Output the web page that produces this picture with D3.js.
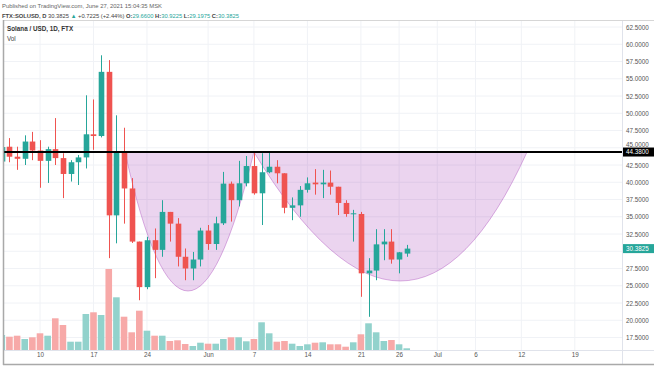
<!DOCTYPE html>
<html><head><meta charset="utf-8">
<script src="https://cdn.jsdelivr.net/npm/d3@7"></script>
<style>
html,body{margin:0;padding:0;background:#fff;}
svg{display:block;font-family:"Liberation Sans","DejaVu Sans",sans-serif;}
</style></head>
<body>
<svg id="c" width="654" height="366"></svg>
<script>
// ---- data ----
const dates = ["2021-05-05","2021-05-06","2021-05-07","2021-05-08","2021-05-09","2021-05-10","2021-05-11","2021-05-12","2021-05-13","2021-05-14","2021-05-15","2021-05-16","2021-05-17","2021-05-18","2021-05-19","2021-05-20","2021-05-21","2021-05-22","2021-05-23","2021-05-24","2021-05-25","2021-05-26","2021-05-27","2021-05-28","2021-05-29","2021-05-30","2021-05-31","2021-06-01","2021-06-02","2021-06-03","2021-06-04","2021-06-05","2021-06-06","2021-06-07","2021-06-08","2021-06-09","2021-06-10","2021-06-11","2021-06-12","2021-06-13","2021-06-14","2021-06-15","2021-06-16","2021-06-17","2021-06-18","2021-06-19","2021-06-20","2021-06-21","2021-06-22","2021-06-23","2021-06-24","2021-06-25","2021-06-26","2021-06-27"];
const open  = [43.0,45.15,43.7,43.4,45.9,44.6,43.1,44.8,43.5,41.2,42.9,43.6,46.95,46.7,56.0,35.2,44.5,39.1,31.4,24.8,31.6,30.2,35.7,34.0,29.2,27.5,28.8,33.0,31.05,34.05,39.8,37.4,39.85,42.35,38.4,41.45,42.25,41.3,36.3,36.65,38.9,39.95,39.7,39.95,39.35,37.0,35.4,35.4,26.8,27.2,31.0,31.4,28.8,29.66];
const high  = [45.4,46.4,45.15,46.8,47.3,46.1,45.15,49.3,44.2,43.2,43.95,52.6,52.0,58.4,57.7,49.7,47.9,40.6,31.4,32.1,33.3,37.4,35.7,34.8,30.4,29.9,33.4,33.8,35.0,41.5,40.1,43.1,43.8,44.4,44.2,44.4,43.2,41.3,37.8,39.45,40.7,41.9,41.8,41.7,39.35,37.4,36.0,35.7,29.0,33.2,33.2,33.2,29.9,30.9225];
const low   = [42.4,42.9,41.8,42.5,43.2,39.2,39.9,42.5,37.7,40.1,39.6,42.0,44.7,46.5,29.0,31.15,34.0,31.2,22.9,24.5,26.1,29.2,31.4,27.8,25.8,25.8,27.8,30.2,30.2,33.8,34.3,36.5,39.4,38.2,33.8,41.3,39.85,35.5,34.5,35.0,38.5,38.2,37.7,38.2,35.25,35.0,31.4,23.4,20.5,25.8,28.7,28.2,26.8,29.1975];
const close = [45.1,43.7,43.4,45.9,44.6,43.1,44.8,43.5,41.2,42.9,43.6,46.95,46.7,56.0,35.2,44.5,39.1,31.4,24.8,31.6,30.2,35.7,34.0,29.2,27.5,28.8,33.0,31.05,34.05,39.8,37.4,39.85,42.35,38.4,41.45,42.25,41.3,36.3,36.65,38.9,39.85,39.7,39.95,39.35,37.0,35.4,35.5,26.8,27.2,31.0,31.4,28.8,29.85,30.3825];
const volume = [15,13.3,14.3,11,12.7,16.7,14.3,31.7,25,8.3,8.3,36,37.7,35,81,52.7,33.3,17.7,39.3,19.3,14.3,14.3,9,9.7,6,4,7.3,6.3,6.3,11,12.7,12.7,8.7,11,27.7,16.7,8.3,9,6.3,4,5.7,7.3,7.7,5.7,5.7,3.3,7.7,15.7,26.7,17.7,9,10,5.7,1.7];

const priceTicks = [17.5,20,22.5,25,27.5,30,32.5,35,37.5,40,42.5,45,47.5,50,52.5,55,57.5,60,62.5];
const dateTicks = ["2021-05-10","2021-05-17","2021-05-24","2021-06-01","2021-06-07","2021-06-14","2021-06-21","2021-06-26","2021-07-01","2021-07-06","2021-07-12","2021-07-19"];
const dateTickLabels = ["10","17","24","Jun","7","14","21","26","Jul","6","12","19"];

const levelPrice = 44.38;
const lastPrice = 30.3825;
// cup-and-handle arcs: [start, control, end] as [date, price]
const arcLeft  = [["2021-05-21T03:00", 44.38], ["2021-05-29T04:30", 4.1], ["2021-06-07T00:00", 44.38]];
const arcRight = [["2021-06-07T00:00", 44.38], ["2021-06-27T10:00", 7.0], ["2021-07-12T18:00", 44.38]];

const headerLine1 = "Published on TradingView.com, June 27, 2021 15:04:35 MSK";
const legendTitle = "Solana / USD, 1D, FTX";

// ---- layout ----
const W = 654, H = 366;
const plotL = 4, plotR = 622, plotT = 21, plotB = 350;
const UP = "#26a69a", DOWN = "#ef5350";
const UPV = "#92d2cc", DOWNV = "#f7a9a8";

const parse = s => new Date(s.length > 10 ? s + "Z" : s + "T00:00Z");
const x = d3.scaleUtc().domain([parse("2021-05-10"), parse("2021-07-19")]).range([40, 574.8]);
const y = d3.scaleLinear().domain([17.5, 62.5]).range([337.5, 27]);
const yv = d3.scaleLinear().domain([0, 100]).range([plotB, plotB - 100]);

const svg = d3.select("#c");
svg.append("rect").attr("width", W).attr("height", H).attr("fill", "#fff");

const defs = svg.append("defs");
defs.append("clipPath").attr("id", "plot").append("rect")
  .attr("x", plotL).attr("y", plotT).attr("width", plotR - plotL).attr("height", plotB - plotT);

// grid
const grid = svg.append("g").attr("clip-path", "url(#plot)");
grid.selectAll("line.h").data(priceTicks).join("line")
  .attr("x1", plotL).attr("x2", plotR).attr("y1", d => y(d)).attr("y2", d => y(d))
  .attr("stroke", "#f0f2f6").attr("stroke-width", 1);
grid.selectAll("line.v").data(dateTicks).join("line")
  .attr("x1", d => x(parse(d))).attr("x2", d => x(parse(d))).attr("y1", plotT).attr("y2", plotB)
  .attr("stroke", "#f0f2f6").attr("stroke-width", 1);

const plot = svg.append("g").attr("clip-path", "url(#plot)");

// arcs
function arcPath(pts) {
  const p = d3.path();
  const P = pts.map(d => [x(parse(d[0])), y(d[1])]);
  p.moveTo(P[0][0], P[0][1]);
  p.quadraticCurveTo(P[1][0], P[1][1], P[2][0], P[2][1]);
  p.closePath();
  return p.toString();
}
[arcLeft, arcRight].forEach(a => {
  plot.append("path").attr("d", arcPath(a))
    .attr("fill", "rgba(156,39,176,0.2)")
    .attr("stroke", "rgba(156,39,176,0.35)").attr("stroke-width", 1);
});

const rows = dates.map((d, i) => ({
  t: parse(d), o: open[i], h: high[i], l: low[i], c: close[i], v: volume[i], up: close[i] >= open[i]
}));

// volume
const bw = 6.6;
plot.selectAll("rect.vol").data(rows).join("rect")
  .attr("x", d => x(d.t) - bw / 2).attr("width", bw)
  .attr("y", d => yv(d.v)).attr("height", d => plotB - yv(d.v))
  .attr("fill", d => d.up ? UPV : DOWNV);

// candles
const cw = 5.6;
plot.selectAll("line.wick").data(rows).join("line")
  .attr("x1", d => Math.round(x(d.t)) + 0.5).attr("x2", d => Math.round(x(d.t)) + 0.5)
  .attr("y1", d => y(d.h)).attr("y2", d => y(d.l))
  .attr("stroke", d => d.up ? UP : DOWN).attr("stroke-width", 1);
plot.selectAll("rect.body").data(rows).join("rect")
  .attr("x", d => Math.round(x(d.t)) + 0.5 - cw / 2).attr("width", cw)
  .attr("y", d => y(Math.max(d.o, d.c)))
  .attr("height", d => Math.max(1, Math.abs(y(d.o) - y(d.c))))
  .attr("fill", d => d.up ? UP : DOWN);

// horizontal level
plot.append("line").attr("x1", plotL).attr("x2", plotR)
  .attr("y1", y(levelPrice)).attr("y2", y(levelPrice))
  .attr("stroke", "#000").attr("stroke-width", 2);

// separators / frame
svg.append("line").attr("x1", plotR + 0.5).attr("x2", plotR + 0.5).attr("y1", plotT).attr("y2", 364)
  .attr("stroke", "#e0e3eb");
svg.append("line").attr("x1", plotL).attr("x2", W).attr("y1", plotB + 0.5).attr("y2", plotB + 0.5)
  .attr("stroke", "#e0e3eb");
svg.append("line").attr("x1", 3).attr("x2", W).attr("y1", plotT - 0.5).attr("y2", plotT - 0.5)
  .attr("stroke", "#d6d6d6");
svg.append("line").attr("x1", 3.5).attr("x2", 3.5).attr("y1", plotT - 1).attr("y2", 365)
  .attr("stroke", "#a9a9a9").attr("stroke-width", 1.5);
svg.append("line").attr("x1", 3).attr("x2", W).attr("y1", 364.5).attr("y2", 364.5)
  .attr("stroke", "#a9a9a9").attr("stroke-width", 1.5);

// price axis (labels fully hidden by a price tag are not drawn; a partly hidden one is nudged up)
const tagPrices = [levelPrice, lastPrice];
const visibleTicks = priceTicks.filter(v => !tagPrices.some(p => Math.abs(y(v) - y(p)) < 3.5));
const yAxis = d3.axisRight(y).tickValues(visibleTicks).tickSize(0).tickPadding(0)
  .tickFormat(d => d.toFixed(4));
const ya = svg.append("g").attr("transform", `translate(${plotR + 4},0)`).call(yAxis);
ya.select(".domain").remove();
ya.selectAll("text").attr("font-size", 6.3).attr("fill", "#555").attr("font-family", "Liberation Sans, sans-serif")
  .attr("dy", d => {
    const near = tagPrices.find(p => Math.abs(y(d) - y(p)) < 8);
    return near === undefined ? "0.32em" : (y(d) < y(near) ? "-0.2em" : "0.9em");
  });

// date axis
const labelOf = new Map(dateTicks.map((d, i) => [+parse(d), dateTickLabels[i]]));
const xAxis = d3.axisBottom(x).tickValues(dateTicks.map(parse)).tickSize(0).tickPadding(0)
  .tickFormat(d => labelOf.get(+d));
const xa = svg.append("g").attr("transform", `translate(0,${plotB + 3})`).call(xAxis);
xa.select(".domain").remove();
xa.selectAll("text").attr("font-size", 6.3).attr("fill", "#555").attr("font-family", "Liberation Sans, sans-serif");

// price tags
function tag(price, bg, label) {
  const g = svg.append("g").attr("transform", `translate(${plotR + 1},${y(price)})`);
  g.append("rect").attr("x", 0).attr("y", -4.5).attr("width", 31).attr("height", 9).attr("fill", bg);
  g.append("text").attr("x", 3).attr("y", 2.4).attr("font-size", 6.3).attr("fill", "#fff").text(label);
}
tag(levelPrice, "#000", levelPrice.toFixed(4));
tag(lastPrice, UP, lastPrice.toFixed(4));

// header
svg.append("text").attr("x", 2).attr("y", 7.5).attr("font-size", 5.9).attr("fill", "#666").text(headerLine1);
const h2 = svg.append("text").attr("x", 2).attr("y", 17.5).attr("font-size", 5.8).attr("fill", "#444");
const last = rows[rows.length - 1];
h2.append("tspan").attr("font-weight", "bold").text("FTX:SOLUSD, D ");
h2.append("tspan").text(last.c.toFixed(4) + " ");
h2.append("tspan").attr("fill", UP).text("\u25B2");
h2.append("tspan").text(" +" + (last.c - last.o).toFixed(4) + " (+" + ((last.c - last.o) / last.o * 100).toFixed(2) + "%) ");
[["O:", last.o], ["H:", last.h], ["L:", last.l], ["C:", last.c]].forEach(([k, v]) => {
  h2.append("tspan").attr("font-weight", "bold").text(k);
  h2.append("tspan").attr("fill", UP).text(v.toFixed(4) + " ");
});

// legend
svg.append("text").attr("x", 7).attr("y", 31).attr("font-size", 6.3).attr("font-weight", "bold").attr("fill", "#333").text(legendTitle);
svg.append("text").attr("x", 7).attr("y", 40.5).attr("font-size", 6.3).attr("fill", "#444").text("Vol");
</script>
</body></html>
